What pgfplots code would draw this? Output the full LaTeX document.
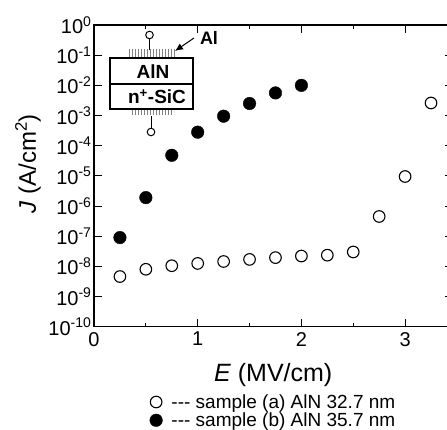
\documentclass[border=0pt]{standalone}
\usepackage{pgfplots}
\usepackage{fontspec}
\setmainfont{Liberation Sans}
\usetikzlibrary{patterns,arrows.meta}
\pgfplotsset{compat=1.18}
\begin{document}
\begin{tikzpicture}
\useasboundingbox (0pt,0pt) rectangle (447pt,430pt);
\clip (0pt,0pt) rectangle (447pt,430pt);
\begin{axis}[
  at={(94pt,103.3pt)}, anchor=south west,
  scale only axis, width=359pt, height=301.7pt,
  xmin=0, xmax=3.462,
  ymode=log, ymin=1e-10, ymax=1,
  xtick={0,1,2,3}, minor xtick={0.5,1.5,2.5,3.5},
  ytick={1e-10,1e-9,1e-8,1e-7,1e-6,1e-5,1e-4,1e-3,1e-2,1e-1,1},
  yticklabels={10\textsuperscript{-10},10\textsuperscript{-9},10\textsuperscript{-8},10\textsuperscript{-7},10\textsuperscript{-6},10\textsuperscript{-5},10\textsuperscript{-4},10\textsuperscript{-3},10\textsuperscript{-2},10\textsuperscript{-1},10\textsuperscript{0}},
  yminorticks=false,
  tick align=inside,
  major tick length=8pt, minor tick length=4pt,
  tick style={black,line width=0.9pt},
  axis line style={line width=1.1pt},
  /pgf/number format/assume math mode=true,
  xticklabel style={font=\fontsize{20}{20}\selectfont, yshift=-2pt},
  yticklabel style={font=\fontsize{20}{20}\selectfont, xshift=1pt},
  xlabel={\textit{E} (MV/cm)},
  xlabel style={font=\fontsize{25}{25}\selectfont, at={(rel axis cs:0.499,0)}, anchor=center, yshift=-48pt},
  ylabel={\textit{J} (A/cm\textsuperscript{2})},
  ylabel style={font=\fontsize{24}{24}\selectfont, at={(rel axis cs:0,0.54)}, anchor=center, yshift=66pt},
  legend style={at={(rel axis cs:0.155,-0.217)}, anchor=north west, draw=none, fill=none,
    font=\fontsize{19}{19}\selectfont, row sep=-1pt, inner sep=0pt,
    /tikz/column 1/.style={column sep=7pt}},
  legend cell align=left,
]
\addplot[only marks, mark=o, mark size=5.8pt, mark options={line width=1.1pt, draw=black, fill=white}]
 coordinates {(0.25,4.6e-9)(0.50,8.0e-9)(0.75,1.05e-8)(1.00,1.25e-8)(1.25,1.45e-8)(1.50,1.70e-8)(1.75,1.95e-8)(2.00,2.2e-8)(2.25,2.35e-8)(2.50,3.0e-8)(2.75,4.5e-7)(3.00,9.5e-6)(3.25,2.6e-3)};
\addplot[only marks, mark=*, mark size=6.3pt, mark options={draw=black, fill=black}]
 coordinates {(0.25,9e-8)(0.50,1.9e-6)(0.75,4.8e-5)(1.00,2.8e-4)(1.25,9.5e-4)(1.50,2.5e-3)(1.75,5.6e-3)(2.00,1.0e-2)};
\legend{-{}-{}- sample (a) AlN 32.7 nm, -{}-{}- sample (b) AlN 35.7 nm}
\end{axis}
\begin{scope}[shift={(0pt,430pt)},y=-1pt,x=1pt]
  \fill[pattern=vertical lines, pattern color=gray] (128,50) rectangle (175,58);
  \fill[pattern=vertical lines, pattern color=gray] (130,109) rectangle (174,115);
  \draw[line width=1.1pt,fill=white] (110,58) rectangle (193,109);
  \draw[line width=1.1pt] (110,84) -- (193,84);
  \node[font=\bfseries\fontsize{19}{19}\selectfont] at (153,72) {AlN};
  \node[font=\bfseries\fontsize{19}{19}\selectfont] at (157,97) {n\textsuperscript{+}-SiC};
  \draw[line width=1pt] (149.5,39) -- (149.5,50);
  \draw[line width=1pt] (149.5,35) circle (3.8pt);
  \draw[line width=1pt] (151.5,116) -- (151.5,128);
  \draw[line width=1pt] (151,132) circle (3.8pt);
  \draw[line width=1pt,-{Latex[length=8pt,width=7pt]}] (194,38) -- (175,51);
  \node[font=\bfseries\fontsize{18}{18}\selectfont] at (209,38) {Al};
\end{scope}
\end{tikzpicture}
\end{document}
